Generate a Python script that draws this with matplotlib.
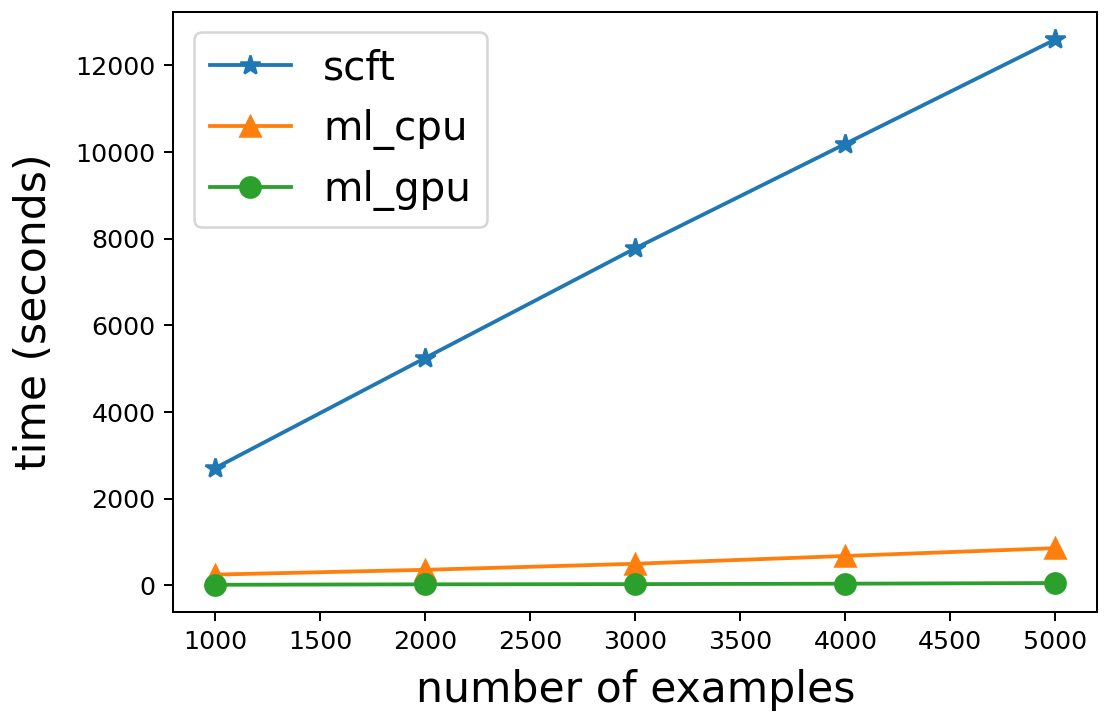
import numpy as np
import matplotlib.pyplot as plt

# numero de ejemplos y tiempos
examples = [1000, 2000, 3000, 4000, 5000]
scft = [2710, 5250, 7780, 10190, 12600]
ml_cpu = [250, 360, 500, 680, 860]
ml_gpu = [15, 25, 30, 40, 55]

fig = plt.figure(figsize=(1104 / 182, 715 / 182), dpi=182)
ax = fig.add_axes([0.157, 0.144, 0.837, 0.839])

ax.plot(examples, scft, marker='*', markersize=8, label='scft')
ax.plot(examples, ml_cpu, marker='^', markersize=8, label='ml_cpu')
ax.plot(examples, ml_gpu, marker='o', markersize=8, label='ml_gpu')

ax.set_xlabel('number of examples', fontsize=16.8, labelpad=6)
ax.set_ylabel('time (seconds)', fontsize=16.8, labelpad=8)
ax.legend(fontsize=16, loc='upper left')

fig.savefig('out.png', dpi=182)
